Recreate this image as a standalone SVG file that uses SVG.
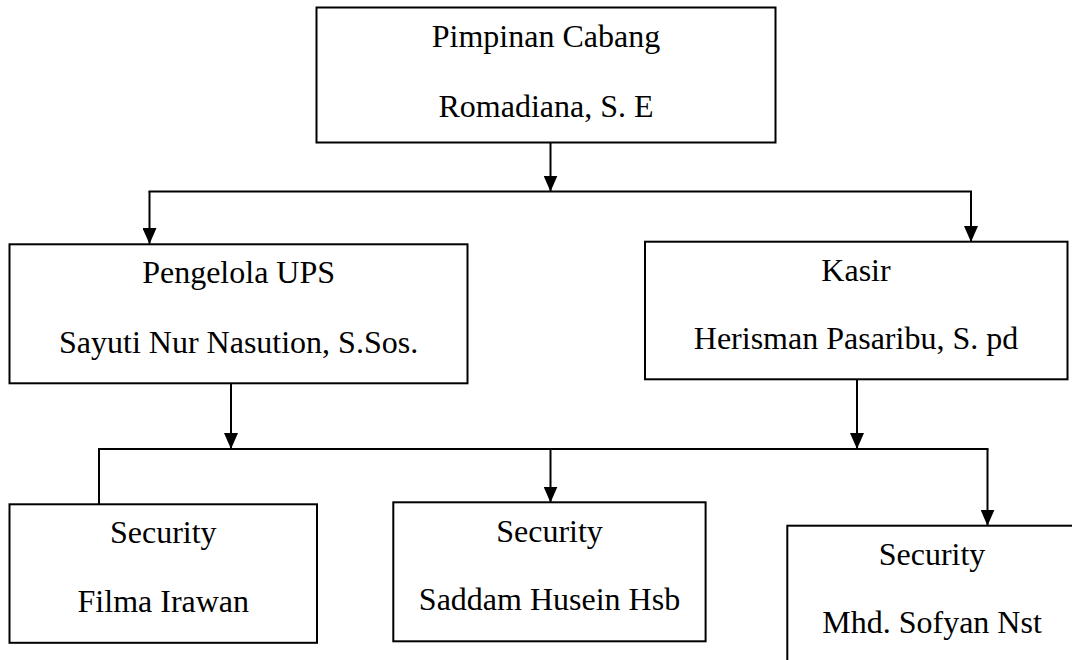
<svg xmlns="http://www.w3.org/2000/svg" width="1072" height="660" viewBox="0 0 1072 660">
<style>
.box{fill:#fff;stroke:#000;stroke-width:2}
.t{font-family:"Liberation Serif","Times New Roman",serif;font-size:32px;fill:#000;text-anchor:middle}
.c{stroke:#000;stroke-width:2;fill:none}
.a{marker-end:url(#arr)}
</style>
<defs>
<marker id="arr" markerUnits="userSpaceOnUse" markerWidth="16" markerHeight="14" refX="16" refY="7" orient="auto">
<path d="M0,0 L16,7 L0,14 z" fill="#000"/>
</marker>
</defs>
<rect width="1072" height="660" fill="#fff"/>
<g id="connectors">
<line class="c a" x1="550.5" y1="142" x2="550.5" y2="191.5"/>
<line class="c" x1="148.5" y1="191.5" x2="972" y2="191.5"/>
<line class="c a" x1="149.5" y1="191.5" x2="149.5" y2="244"/>
<line class="c a" x1="971" y1="191.5" x2="971" y2="242"/>
<line class="c a" x1="231" y1="383" x2="231" y2="449"/>
<line class="c a" x1="857" y1="379" x2="857" y2="449"/>
<line class="c" x1="98" y1="449" x2="988.5" y2="449"/>
<line class="c" x1="99" y1="449" x2="99" y2="504"/>
<line class="c a" x1="550.5" y1="449" x2="550.5" y2="502.5"/>
<line class="c a" x1="987.5" y1="449" x2="987.5" y2="525.7"/>
</g>
<g id="pimpinan">
<rect class="box" x="316.5" y="7.5" width="459" height="135"/>
<text class="t" x="546" y="46.7">Pimpinan Cabang</text>
<text class="t" x="546" y="116.7">Romadiana, S. E</text>
</g>
<g id="pengelola">
<rect class="box" x="9.5" y="244.3" width="458" height="139"/>
<text class="t" x="238.6" y="283.3">Pengelola UPS</text>
<text class="t" x="238.6" y="352.7">Sayuti Nur Nasution, S.Sos.</text>
</g>
<g id="kasir">
<rect class="box" x="645" y="241.7" width="422.5" height="137.6"/>
<text class="t" x="856" y="281">Kasir</text>
<text class="t" x="856" y="349">Herisman Pasaribu, S. pd</text>
</g>
<g id="security1">
<rect class="box" x="9.5" y="504.3" width="307.5" height="138.5"/>
<text class="t" x="163.3" y="543">Security</text>
<text class="t" x="163.3" y="612.3">Filma Irawan</text>
</g>
<g id="security2">
<rect class="box" x="393.3" y="502.3" width="312.3" height="139"/>
<text class="t" x="549.5" y="542.3">Security</text>
<text class="t" x="549.5" y="610">Saddam Husein Hsb</text>
</g>
<g id="security3">
<rect class="box" x="787.3" y="525.7" width="290" height="200"/>
<text class="t" x="932" y="565">Security</text>
<text class="t" x="932" y="633.3">Mhd. Sofyan Nst</text>
</g>
</svg>
